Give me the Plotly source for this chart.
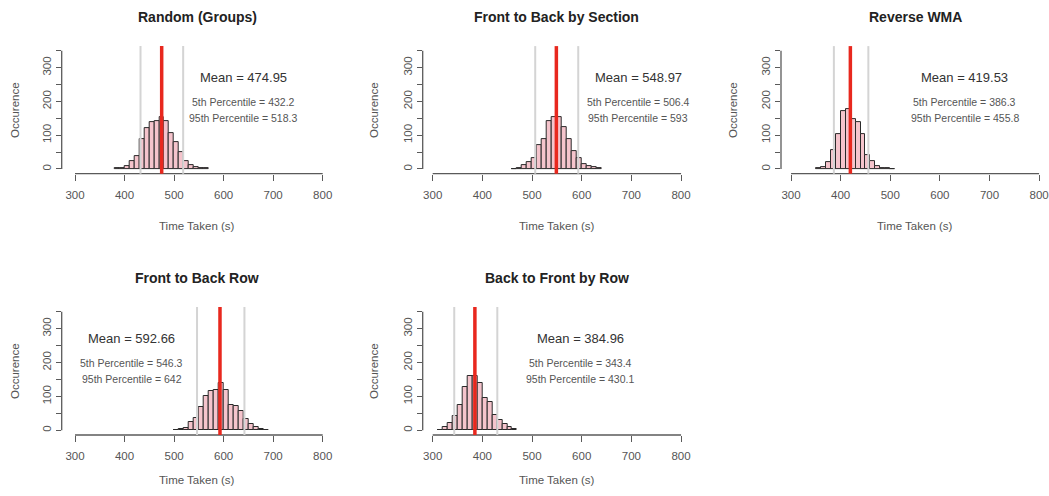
import plotly.graph_objects as go

# ---------------- data ----------------
titles = ["Random (Groups)", "Front to Back by Section", "Reverse WMA",
          "Front to Back Row", "Back to Front by Row"]
bin_width = 10
bin_starts = [380, 460, 350, 500, 310]
counts_random_groups = [2, 3, 10, 22, 38, 88, 121, 138, 143, 153, 143, 107, 80, 51, 23, 12, 7, 4, 2]
counts_front_back_section = [1, 3, 12, 20, 32, 71, 88, 143, 155, 155, 123, 88, 53, 32, 13, 10, 5, 2]
counts_reverse_wma = [2, 6, 20, 55, 104, 170, 176, 149, 138, 103, 41, 24, 10, 4, 2, 1]
counts_front_back_row = [1, 3, 8, 24, 35, 69, 102, 115, 118, 139, 119, 76, 73, 58, 32, 19, 11, 3, 2]
counts_back_front_row = [2, 10, 20, 43, 75, 128, 160, 160, 140, 94, 83, 44, 30, 19, 10, 4]
all_counts = [counts_random_groups, counts_front_back_section, counts_reverse_wma,
              counts_front_back_row, counts_back_front_row]
means = [474.95, 548.97, 419.53, 592.66, 384.96]
p5 = [432.2, 506.4, 386.3, 546.3, 343.4]
p95 = [518.3, 593, 455.8, 642, 430.1]
p5_text = ["432.2", "506.4", "386.3", "546.3", "343.4"]
p95_text = ["518.3", "593", "455.8", "642", "430.1"]
label_x = [640, 714, 650, 415, 597]
x_ticks = [300, 400, 500, 600, 700, 800]
y_ticks = [0, 50, 100, 150, 200, 250, 300, 350]
y_ticktext = ["0", "", "100", "", "200", "", "300", ""]

# ---------------- layout geometry (pixels) ----------------
W, H = 1049, 496
cols_px = [(61.7, 332.6, 273.1), (422.7, 691.0, 279.9), (781.0, 1049.0, 279.7)]
rows_px = [(46.1, 173.7), (307.0, 435.0)]
panel_pos = [(0, 0), (0, 1), (0, 2), (1, 0), (1, 1)]
title_y = [17, 278]
xlab_y = [226, 480]
ylab_x = [15, 374, 733]
ylab_y = [110, 371]

FONT = "Liberation Sans, Arial, Helvetica, sans-serif"
AX_COL = "#5a5a5a"

fig = go.Figure()
shapes = []
annotations = []

def px(xp):
    return xp / W

def py(yp):
    return 1 - yp / H

for i in range(5):
    r, c = panel_pos[i]
    n = i + 1
    xa = "x" if n == 1 else f"x{n}"
    ya = "y" if n == 1 else f"y{n}"
    xl, xr, xmin = cols_px[c]
    yt, yb = rows_px[r]
    centers = [bin_starts[i] + bin_width * k + bin_width / 2 for k in range(len(all_counts[i]))]
    fig.add_trace(go.Bar(
        x=centers, y=all_counts[i], width=bin_width,
        marker=dict(color="#F5C4CC", line=dict(color="#2a2a2a", width=1)),
        xaxis=xa, yaxis=ya, showlegend=False, hoverinfo="skip"))

    axkey = "xaxis" if n == 1 else f"xaxis{n}"
    aykey = "yaxis" if n == 1 else f"yaxis{n}"
    fig.update_layout(**{
        axkey: dict(domain=[px(xl), px(xr)], range=[xmin, 820], anchor=ya,
                    showgrid=False, zeroline=False, showline=False,
                    tickmode="array", tickvals=x_ticks, ticks="outside",
                    ticklen=6, tickcolor=AX_COL, tickwidth=1,
                    ticklabelstandoff=4, automargin=False,
                    tickfont=dict(family=FONT, size=11.5, color="#555555")),
        aykey: dict(domain=[py(yb), py(yt)], range=[-14, 364], anchor=xa,
                    showgrid=False, zeroline=False, showline=False,
                    tickmode="array", tickvals=y_ticks, ticktext=y_ticktext,
                    ticks="outside", ticklen=5, tickcolor=AX_COL, tickwidth=1,
                    tickangle=-90, ticklabelstandoff=0, automargin=False,
                    tickfont=dict(family=FONT, size=11.5, color="#555555")),
    })

    # axis lines (span tick range only, as in base R)
    shapes.append(dict(type="line", xref=xa, yref=f"{ya} domain",
                       x0=x_ticks[0], x1=x_ticks[-1], y0=0, y1=0,
                       line=dict(color=AX_COL, width=1.3)))
    shapes.append(dict(type="line", xref=f"{xa} domain", yref=ya,
                       x0=0, x1=0, y0=y_ticks[0], y1=y_ticks[-1],
                       line=dict(color=AX_COL, width=1.3)))
    # percentile lines
    for v in (p5[i], p95[i]):
        shapes.append(dict(type="line", xref=xa, yref=f"{ya} domain",
                           x0=v, x1=v, y0=0, y1=1, layer="above",
                           line=dict(color="#D4D4D4", width=2)))
    # mean line
    shapes.append(dict(type="line", xref=xa, yref=f"{ya} domain",
                       x0=means[i], x1=means[i], y0=0, y1=1, layer="above",
                       line=dict(color="#E8281E", width=3.5)))

    # texts in data coordinates
    annotations.append(dict(xref=xa, yref=ya, x=label_x[i], y=272,
                            text=f"Mean = {means[i]:.2f}", showarrow=False,
                            font=dict(family=FONT, size=13, color="#333333")))
    annotations.append(dict(xref=xa, yref=ya, x=label_x[i], y=199,
                            text=f"5th Percentile = {p5_text[i]}", showarrow=False,
                            font=dict(family=FONT, size=10.5, color="#555555")))
    annotations.append(dict(xref=xa, yref=ya, x=label_x[i], y=150,
                            text=f"95th Percentile = {p95_text[i]}", showarrow=False,
                            font=dict(family=FONT, size=10.5, color="#555555")))

    # title and axis titles
    cx = (xl + xr) / 2
    annotations.append(dict(xref="paper", yref="paper", x=px(cx), y=py(title_y[r]),
                            text=f"<b>{titles[i]}</b>", showarrow=False,
                            xanchor="center", yanchor="middle",
                            font=dict(family=FONT, size=14, color="#222222")))
    annotations.append(dict(xref="paper", yref="paper", x=px(cx), y=py(xlab_y[r]),
                            text="Time Taken (s)", showarrow=False,
                            xanchor="center", yanchor="middle",
                            font=dict(family=FONT, size=11.5, color="#555555")))
    annotations.append(dict(xref="paper", yref="paper", x=px(ylab_x[c]), y=py(ylab_y[r]),
                            text="Occurence", showarrow=False, textangle=-90,
                            xanchor="center", yanchor="middle",
                            font=dict(family=FONT, size=11.5, color="#555555")))

fig.update_layout(
    width=W, height=H,
    margin=dict(l=0, r=0, t=0, b=0),
    paper_bgcolor="white", plot_bgcolor="white",
    shapes=shapes, annotations=annotations,
    bargap=0, barmode="overlay",
)

fig.write_html("out.html", config={"displayModeBar": False},
               post_script="document.body.style.margin='0';document.body.style.padding='0';")
